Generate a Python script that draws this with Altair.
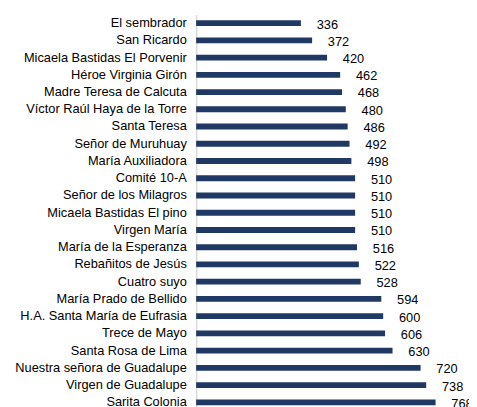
import altair as alt
import pandas as pd

categories = [
    "El sembrador", "San Ricardo", "Micaela Bastidas El Porvenir",
    "Héroe Virginia Girón", "Madre Teresa de Calcuta",
    "Víctor Raúl Haya de la Torre", "Santa Teresa", "Señor de Muruhuay",
    "María Auxiliadora", "Comité 10-A", "Señor de los Milagros",
    "Micaela Bastidas El pino", "Virgen María", "María de la Esperanza",
    "Rebañitos de Jesús", "Cuatro suyo", "María Prado de Bellido",
    "H.A. Santa María de Eufrasia", "Trece de Mayo", "Santa Rosa de Lima",
    "Nuestra señora de Guadalupe", "Virgen de Guadalupe", "Sarita Colonia",
]
values = [336, 372, 420, 462, 468, 480, 486, 492, 498, 510, 510, 510, 510,
          516, 522, 528, 594, 600, 606, 630, 720, 738, 768]

df = pd.DataFrame({"cat": categories, "val": values})

FONT = "Liberation Sans"

y = alt.Y(
    "cat:N",
    sort=categories,
    scale=alt.Scale(paddingInner=0.66, paddingOuter=0.33),
    axis=alt.Axis(
        title=None, ticks=False, labelPadding=10, labelFontSize=13,
        labelFont=FONT, labelColor="#000000", domainColor="#d9d9d9",
        domainWidth=1.5, grid=False, labelLimit=300,
    ),
)
x = alt.X("val:Q", scale=alt.Scale(domain=[0, 850], nice=False), axis=None)

bars = alt.Chart(df).mark_bar(color="#203864").encode(x=x, y=y)
labels = alt.Chart(df).mark_text(
    align="left", baseline="middle", dx=16, dy=1.5, fontSize=13, font=FONT,
    color="#000000",
).encode(x=x, y=y, text="val:Q")

chart = (bars + labels).properties(
    width=269,
    height=alt.Step(17.5),
    autosize=alt.AutoSizeParams(type="none"),
    padding={"left": 191, "top": 3.5, "right": 8, "bottom": 0},
).configure_view(stroke=None)

chart.save("out.html", embed_options={"renderer": "svg", "actions": False})
